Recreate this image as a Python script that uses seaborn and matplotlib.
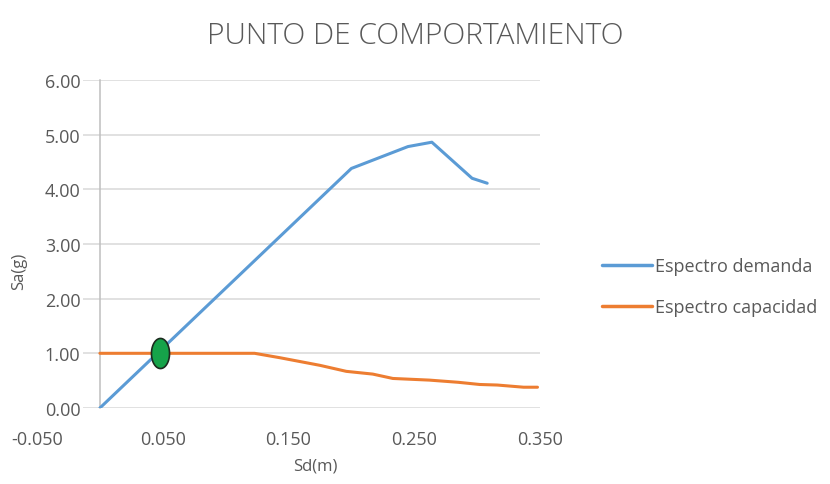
import matplotlib
matplotlib.use("Agg")
import matplotlib.pyplot as plt
from matplotlib.path import Path
import numpy as np
import pandas as pd
import seaborn as sns

# Demand spectrum (ADRS): Sd in m, Sa in g
demand_sd = [0.000, 0.200, 0.245, 0.264, 0.296, 0.308]
demand_sa = [0.00, 4.38, 4.78, 4.86, 4.20, 4.11]

# Capacity spectrum
capacity_sd = [0.000, 0.123, 0.143, 0.175, 0.196, 0.217, 0.233, 0.262, 0.285, 0.302, 0.316, 0.337, 0.348]
capacity_sa = [1.00, 1.00, 0.92, 0.78, 0.67, 0.62, 0.54, 0.51, 0.47, 0.43, 0.42, 0.38, 0.38]

# Performance point
perf_sd = [0.048]
perf_sa = [1.00]

x_ticks = [-0.050, 0.050, 0.150, 0.250, 0.350]
y_ticks = [0.0, 1.0, 2.0, 3.0, 4.0, 5.0, 6.0]

series_names = ["Espectro demanda", "Espectro capacidad"]
colors = ["#5b9bd5", "#ed7d31"]

df = pd.concat([
    pd.DataFrame({"Sd": demand_sd, "Sa": demand_sa, "serie": series_names[0]}),
    pd.DataFrame({"Sd": capacity_sd, "Sa": capacity_sa, "serie": series_names[1]}),
], ignore_index=True)

sns.set_theme(style="white")
plt.rcParams["font.family"] = ["Open Sans", "DejaVu Sans"]

fig = plt.figure(figsize=(8.3, 4.85), dpi=100)
ax = fig.add_axes([0.0446, 0.1567, 0.6060, 0.6766])

text_color = "#595959"
grid_color = "#d9d9d9"

ax.set_xlim(-0.05, 0.35)
ax.set_ylim(0, 6)

# horizontal gridlines
ax.hlines(y_ticks, -0.0135, 0.35, color=grid_color, lw=1.1, zorder=0)

sns.lineplot(data=df, x="Sd", y="Sa", hue="serie", palette=colors, sort=False,
             estimator=None, lw=2.2, ax=ax, legend=True, zorder=3)

# vertical ellipse marker for the performance point
t = np.linspace(0, 2 * np.pi, 60)
ell = Path(np.column_stack([0.6 * np.cos(t), np.sin(t)]), closed=True)
ax.scatter(perf_sd, perf_sa, marker=ell, s=470, color="#16a34a",
           edgecolor="#1d2b1f", linewidth=1.2, zorder=5)

for s in ["top", "right", "bottom"]:
    ax.spines[s].set_visible(False)
ax.spines["left"].set_position(("data", 0))
ax.spines["left"].set_color("#bfbfbf")
ax.spines["left"].set_linewidth(1.1)

ax.set_xticks(x_ticks)
ax.set_xticklabels([f"{v:.3f}" for v in x_ticks])
ax.set_yticks(y_ticks)
ax.set_yticklabels([f"{v:.2f}" for v in y_ticks])
ax.tick_params(axis="both", length=0, labelsize=13, colors=text_color)
ax.tick_params(axis="y", pad=14)
ax.tick_params(axis="x", pad=16)

ax.set_xlabel("Sd(m)", fontsize=12, color=text_color)
ax.set_ylabel("Sa(g)", fontsize=12, color=text_color)
ax.xaxis.set_label_coords(0.553, -0.152)
ax.yaxis.set_label_coords(-0.02, 0.42)

fig.suptitle("PUNTO DE COMPORTAMIENTO", x=0.5, y=0.955, fontsize=21.5,
             color=text_color, fontweight="light")

leg = ax.legend(loc="center left", bbox_to_anchor=(1.09, 0.37), frameon=False,
                fontsize=13, labelcolor=text_color, handlelength=2.8,
                handletextpad=0.15, labelspacing=1.28)
for line in leg.get_lines():
    line.set_linewidth(2.5)

fig.savefig("out.png", dpi=100)
